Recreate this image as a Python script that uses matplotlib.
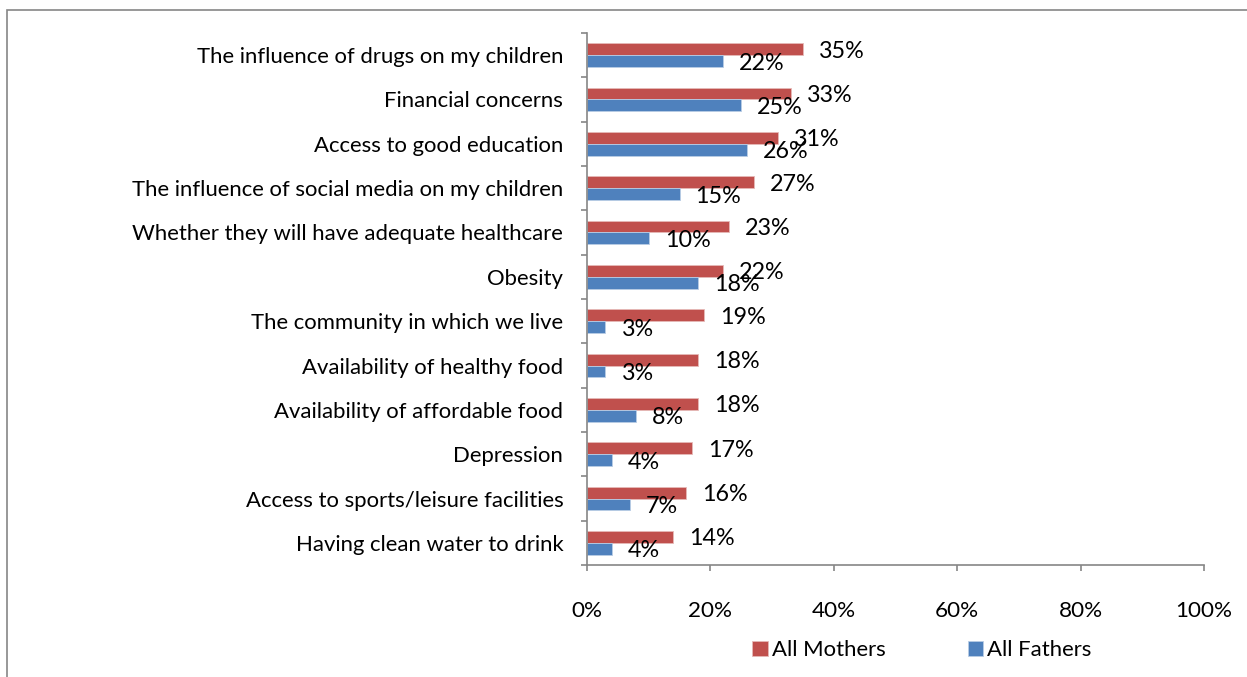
import matplotlib
matplotlib.use("Agg")
import matplotlib.pyplot as plt
import numpy as np
from matplotlib.patches import Rectangle

plt.rcParams["font.family"] = ["Lato", "DejaVu Sans"]

categories = [
    "The influence of drugs on my children",
    "Financial concerns",
    "Access to good education",
    "The influence of social media on my children",
    "Whether they will have adequate healthcare",
    "Obesity",
    "The community in which we live",
    "Availability of healthy food",
    "Availability of affordable food",
    "Depression",
    "Access to sports/leisure facilities",
    "Having clean water to drink",
]
mothers = [35, 33, 31, 27, 23, 22, 19, 18, 18, 17, 16, 14]
fathers = [22, 25, 26, 15, 10, 18, 3, 3, 8, 4, 7, 4]

RED = "#C0504D"
BLUE = "#4F81BD"
AXIS = "#868686"

fig = plt.figure(figsize=(12.47, 6.77), dpi=100)
ax = fig.add_axes([0.4707, 0.1654, 0.4948, 0.7859])

# outer chart border
fig.patches.append(Rectangle((7 / 1247, -0.01), 1.02, 1 - 10 / 677 + 0.01,
                             transform=fig.transFigure, fill=False,
                             edgecolor=AXIS, linewidth=1.2))

y = np.arange(len(categories))
h = 0.27
ax.barh(y - h / 2, mothers, height=h, color=RED, edgecolor="#E6B9B8",
        linewidth=0.6, label="All Mothers")
ax.barh(y + h / 2, fathers, height=h, color=BLUE, edgecolor="#B9CDE5",
        linewidth=0.6, label="All Fathers")

for yi, m, f in zip(y, mothers, fathers):
    ax.annotate(f"{m}%", (m, yi - h / 2), xytext=(11.5, -1.5),
                textcoords="offset points", ha="left", va="center", fontsize=16.8)
    ax.annotate(f"{f}%", (f, yi + h / 2), xytext=(11.5, -1.5),
                textcoords="offset points", ha="left", va="center", fontsize=16.8)

ax.set_xlim(0, 100)
ax.set_ylim(len(categories) - 0.5, -0.5)
ax.set_xticks(np.arange(0, 101, 20))
ax.set_xticklabels([f"{v}%" for v in range(0, 101, 20)])
ax.set_yticks(y)
ax.set_yticklabels(categories)
ax.set_yticks(np.arange(-0.5, len(categories)), minor=True)
ax.tick_params(axis="y", which="major", length=0, pad=17, labelsize=15.9)
ax.tick_params(axis="y", which="minor", length=4, color=AXIS, width=1.2)
ax.tick_params(axis="x", length=4, color=AXIS, width=1.2, pad=22, labelsize=16.2)

for side in ("top", "right"):
    ax.spines[side].set_visible(False)
for side in ("left", "bottom"):
    ax.spines[side].set_color(AXIS)
    ax.spines[side].set_linewidth(1.2)

fig.legend(loc="center", bbox_to_anchor=(922 / 1247, 1 - 650 / 677), ncol=2,
           frameon=False, fontsize=15.9, handlelength=0.7, handleheight=0.7,
           handletextpad=0.2, columnspacing=3.7)

fig.savefig("out.png", dpi=100)
